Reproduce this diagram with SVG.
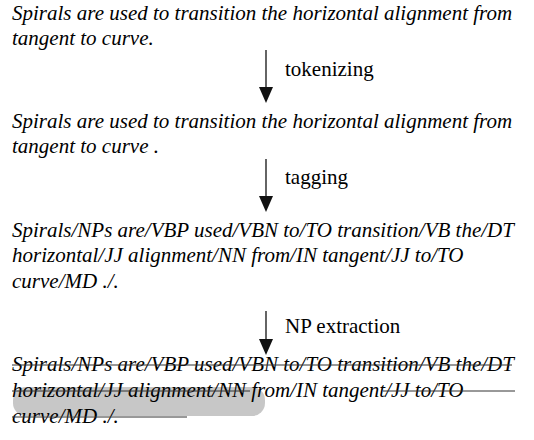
<svg xmlns="http://www.w3.org/2000/svg" width="534" height="440" viewBox="0 0 534 440">
  <g id="raw">
    <text x="12" y="20" font-family="Liberation Serif, DejaVu Serif, serif" font-style="italic" font-size="21">Spirals are used to transition the horizontal alignment from</text>
    <text x="12" y="45" font-family="Liberation Serif, DejaVu Serif, serif" font-style="italic" font-size="21">tangent to curve.</text>
  </g>
  <g id="tokens">
    <text x="12" y="128" font-family="Liberation Serif, DejaVu Serif, serif" font-style="italic" font-size="21">Spirals are used to transition the horizontal alignment from</text>
    <text x="12" y="153" font-family="Liberation Serif, DejaVu Serif, serif" font-style="italic" font-size="21">tangent to curve .</text>
  </g>
  <g id="tagged">
    <text x="12" y="237" font-family="Liberation Serif, DejaVu Serif, serif" font-style="italic" font-size="21">Spirals/NPs are/VBP used/VBN to/TO transition/VB the/DT</text>
    <text x="12" y="262" font-family="Liberation Serif, DejaVu Serif, serif" font-style="italic" font-size="21">horizontal/JJ alignment/NN from/IN tangent/JJ to/TO</text>
    <text x="12" y="288" font-family="Liberation Serif, DejaVu Serif, serif" font-style="italic" font-size="21">curve/MD ./.</text>
  </g>
  <g id="chunks">
    <rect x="13" y="387" width="252" height="29" rx="13" fill="#bdbdbd" opacity="0.85"/>
    <text x="12" y="371" font-family="Liberation Serif, DejaVu Serif, serif" font-style="italic" font-size="21">Spirals/NPs are/VBP used/VBN to/TO transition/VB the/DT</text>
    <text x="12" y="397" font-family="Liberation Serif, DejaVu Serif, serif" font-style="italic" font-size="21">horizontal/JJ alignment/NN from/IN tangent/JJ to/TO</text>
    <text x="12" y="423" font-family="Liberation Serif, DejaVu Serif, serif" font-style="italic" font-size="21">curve/MD ./.</text>
    <g stroke="#333" stroke-width="1">
      <line x1="12" y1="365" x2="512" y2="365"/>
      <line x1="12" y1="391" x2="250" y2="391"/>
      <line x1="383" y1="391" x2="515" y2="391"/>
      <line x1="12" y1="417" x2="187" y2="417"/>
    </g>
  </g>
  <g id="connectors">
    <g id="tokenizing">
      <line x1="266" y1="50" x2="266" y2="88" stroke="#111" stroke-width="1.3"/>
      <path d="M259,87 L273,87 L266,103 Z" fill="#111"/>
      <text x="285" y="76" font-family="Liberation Serif, DejaVu Serif, serif" font-size="21">tokenizing</text>
    </g>
    <g id="tagging">
      <line x1="266" y1="159" x2="266" y2="197" stroke="#111" stroke-width="1.3"/>
      <path d="M259,196 L273,196 L266,212 Z" fill="#111"/>
      <text x="285" y="184" font-family="Liberation Serif, DejaVu Serif, serif" font-size="21">tagging</text>
    </g>
    <g id="np-extraction">
      <line x1="266" y1="311" x2="266" y2="340" stroke="#111" stroke-width="1.3"/>
      <path d="M259,339 L273,339 L266,355 Z" fill="#111"/>
      <text x="285" y="333" font-family="Liberation Serif, DejaVu Serif, serif" font-size="21">NP extraction</text>
    </g>
  </g>
</svg>
